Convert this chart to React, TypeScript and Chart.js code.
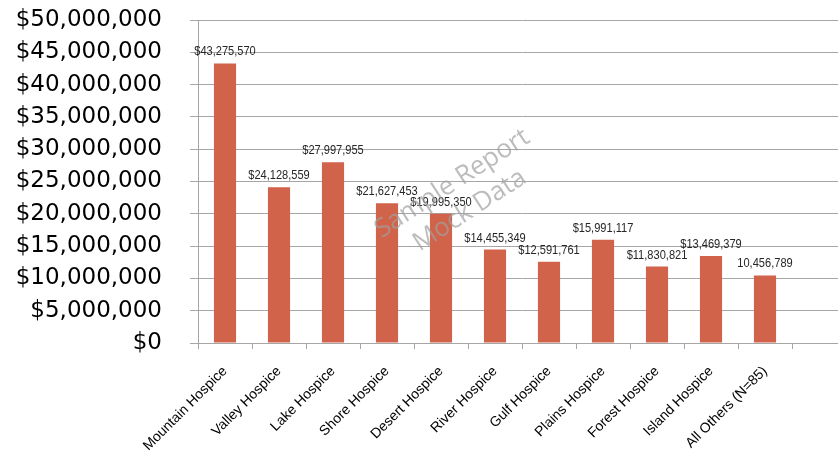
import React, { useEffect, useRef } from "react";
import { Chart, registerables } from "chart.js";

Chart.register(...registerables);

const categories = [
  "Mountain Hospice",
  "Valley Hospice",
  "Lake Hospice",
  "Shore Hospice",
  "Desert Hospice",
  "River Hospice",
  "Gulf Hospice",
  "Plains Hospice",
  "Forest Hospice",
  "Island Hospice",
  "All Others (N=85)",
  "",
];

const revenue: (number | null)[] = [
  43275570, 24128559, 27997955, 21627453, 19995350, 14455349, 12591761,
  15991117, 11830821, 13469379, 10456789, null,
];

const valueLabels = [
  "$43,275,570",
  "$24,128,559",
  "$27,997,955",
  "$21,627,453",
  "$19,995,350",
  "$14,455,349",
  "$12,591,761",
  "$15,991,117",
  "$11,830,821",
  "$13,469,379",
  "10,456,789",
  "",
];

const watermarkLines = ["Sample Report", "Mock Data"];

const yMax = 50000000;
const yStep = 5000000;

const GRID = "#A6A6A6";

export default function App() {
  const ref = useRef<HTMLCanvasElement | null>(null);

  useEffect(() => {
    if (!ref.current) return;

    const labelPlugin = {
      id: "valueLabels",
      afterDatasetsDraw(chart: any) {
        const ctx = chart.ctx;
        const meta = chart.getDatasetMeta(0);
        meta.data.forEach((bar: any, i: number) => {
          const t = valueLabels[i];
          if (!t || revenue[i] == null) return;
          ctx.save();
          ctx.translate(bar.x, bar.y - 8);
          ctx.scale(0.82, 1);
          ctx.font = '13.5px "Liberation Sans", Arial, sans-serif';
          ctx.fillStyle = "#262626";
          ctx.textAlign = "center";
          ctx.textBaseline = "alphabetic";
          ctx.fillText(t, 0, 0);
          ctx.restore();
        });
      },
    };

    const watermarkPlugin = {
      id: "watermark",
      afterDraw(chart: any) {
        const ctx = chart.ctx;
        ctx.save();
        ctx.translate(461, 197);
        ctx.rotate((-33 * Math.PI) / 180);
        ctx.font = '26px "Open Sans", sans-serif';
        ctx.fillStyle = "rgba(160,160,160,0.7)";
        ctx.textAlign = "center";
        ctx.textBaseline = "middle";
        ctx.fillText(watermarkLines[0], 0, -16);
        ctx.fillText(watermarkLines[1], 0, 16);
        ctx.restore();
      },
    };

    const chart = new Chart(ref.current, {
      type: "bar",
      data: {
        labels: categories,
        datasets: [
          {
            data: revenue as any,
            backgroundColor: "#D1634A",
            barPercentage: 0.41,
            categoryPercentage: 1,
          },
        ],
      },
      options: {
        responsive: false,
        animation: false,
        devicePixelRatio: 1,
        layout: { padding: { top: 0, right: 0, left: 0, bottom: 0 } },
        plugins: {
          legend: { display: false },
          tooltip: { enabled: false },
        },
        scales: {
          x: {
            grid: {
              display: true,
              drawOnChartArea: false,
              drawTicks: true,
              tickLength: 6,
              offset: true,
              color: GRID,
            },
            border: { display: true, color: GRID },
            ticks: {
              autoSkip: false,
              maxRotation: 45,
              minRotation: 45,
              padding: 14,
              color: "#000",
              font: { family: '"Liberation Sans", Arial, sans-serif', size: 14 },
            },
            afterFit(scale: any) {
              scale.height = 110;
              scale.paddingLeft = 0;
              scale.paddingRight = 0;
            },
          },
          y: {
            min: 0,
            max: yMax,
            ticks: {
              stepSize: yStep,
              autoSkip: false,
              padding: 28,
              color: "#000",
              font: { family: '"DejaVu Sans", sans-serif', size: 23 },
              callback: (v: any) => "$" + Number(v).toLocaleString("en-US"),
            },
            grid: { color: GRID, tickLength: 8, drawTicks: true },
            border: { display: true, color: GRID },
            afterFit(scale: any) {
              scale.width = 198;
              scale.paddingTop = 20;
              scale.paddingBottom = 0;
            },
          },
        },
      },
      plugins: [labelPlugin, watermarkPlugin],
    });

    return () => chart.destroy();
  }, []);

  return (
    <div
      style={{
        position: "fixed",
        left: 0,
        top: 0,
        width: 838,
        height: 453,
        overflow: "hidden",
        background: "#fff",
      }}
    >
      <canvas ref={ref} width={846} height={453} style={{ display: "block" }} />
    </div>
  );
}
